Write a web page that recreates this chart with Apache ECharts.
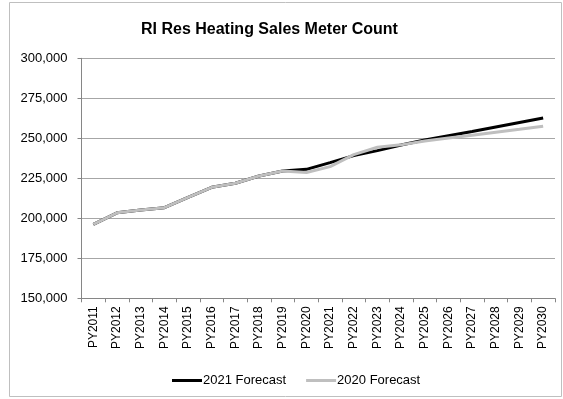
<!DOCTYPE html>
<html>
<head>
<meta charset="utf-8">
<script src="https://cdn.jsdelivr.net/npm/echarts@6/dist/echarts.min.js"></script>
<style>
  html, body { margin: 0; padding: 0; background: #fff; }
  #chart { width: 563px; height: 399px; }
</style>
</head>
<body>
<div id="chart"></div>
<script>
// Program years on the category axis
var years = ['PY2011','PY2012','PY2013','PY2014','PY2015','PY2016','PY2017','PY2018','PY2019','PY2020',
             'PY2021','PY2022','PY2023','PY2024','PY2025','PY2026','PY2027','PY2028','PY2029','PY2030'];

// Meter counts for each forecast vintage
var forecast2021 = [196200, 203400, 205200, 206600, 213100, 219400, 221900, 226400, 229600, 230600,
                    234800, 239200, 242300, 245800, 248900, 251600, 254300, 257100, 259900, 262700];
var forecast2020 = [196200, 203400, 205200, 206600, 213100, 219400, 221900, 226400, 229600, 228600,
                    232300, 239800, 244400, 245900, 248300, 250200, 251900, 253800, 255600, 257600];

var fontFamily = 'Liberation Sans, Arial, sans-serif';

var chart = echarts.init(document.getElementById('chart'), null, { renderer: 'canvas' });
chart.setOption({
  animation: false,
  backgroundColor: '#fff',
  title: {
    text: 'RI Res Heating Sales Meter Count',
    left: 136,
    top: 17,
    textStyle: { fontFamily: fontFamily, fontSize: 16, fontWeight: 'bold', color: '#000' }
  },
  graphic: [{
    type: 'rect',
    shape: { x: 9.5, y: 2.5, width: 552, height: 394 },
    style: { fill: 'none', stroke: '#bfbfbf', lineWidth: 1 },
    silent: true
  }],
  legend: {
    left: 167,
    top: 369,
    icon: 'rect',
    itemWidth: 30,
    itemHeight: 3,
    itemGap: 20,
    textStyle: { fontFamily: fontFamily, fontSize: 13, color: '#000', padding: [0, 0, 0, -4] },
    data: ['2021 Forecast', '2020 Forecast']
  },
  grid: { left: 81.5, right: 8, top: 58.3, bottom: 100.7, containLabel: false },
  xAxis: {
    type: 'category',
    data: years,
    boundaryGap: true,
    axisLine: { lineStyle: { color: '#868686', width: 1 } },
    axisTick: { show: true, alignWithLabel: false, length: 4, lineStyle: { color: '#868686' } },
    axisLabel: { rotate: 90, margin: 8, fontFamily: fontFamily, fontSize: 12, color: '#000', interval: 0 },
    splitLine: { show: false }
  },
  yAxis: {
    type: 'value',
    min: 150000,
    max: 300000,
    interval: 25000,
    axisLine: { show: true, lineStyle: { color: '#868686', width: 1 } },
    axisTick: { show: true, length: 4, lineStyle: { color: '#868686' } },
    axisLabel: {
      margin: 14,
      fontFamily: fontFamily,
      fontSize: 13,
      color: '#000',
      formatter: function (v) { return v.toLocaleString('en-US'); }
    },
    splitLine: { show: true, lineStyle: { color: '#a6a6a6', width: 1 } }
  },
  series: [
    {
      name: '2021 Forecast',
      type: 'line',
      data: forecast2021,
      symbol: 'none',
      lineStyle: { color: '#000', width: 3 },
      itemStyle: { color: '#000' },
      z: 2
    },
    {
      name: '2020 Forecast',
      type: 'line',
      data: forecast2020,
      symbol: 'none',
      lineStyle: { color: '#bfbfbf', width: 3 },
      itemStyle: { color: '#bfbfbf' },
      z: 3
    }
  ]
});
</script>
</body>
</html>
